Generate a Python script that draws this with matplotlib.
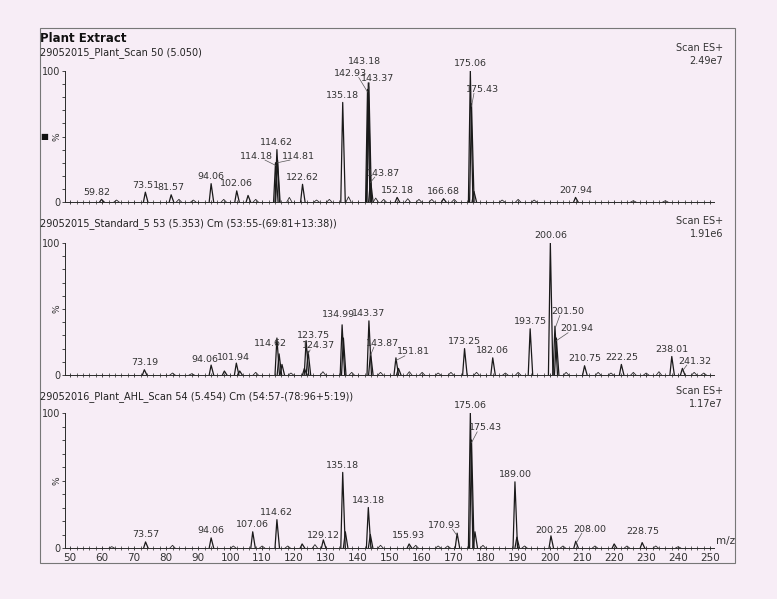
import matplotlib.pyplot as plt
from matplotlib.patches import Rectangle
from matplotlib.ticker import MultipleLocator

# ---- data (m/z, relative intensity %) ----
plant_mz = [59.82, 73.51, 81.57, 94.06, 102.06, 105.6, 114.18, 114.62, 114.81,
            122.62, 135.18, 142.93, 143.18, 143.37, 143.87, 152.18, 166.68,
            175.06, 175.43, 176.2, 207.94]
plant_int = [2, 7.5, 5.5, 14, 8.5, 5, 30, 40, 32,
             13.5, 76, 86, 91, 88, 17, 3.5, 2.5,
             100, 75, 8, 3.5]
plant_labels = ['59.82', '73.51', '81.57', '94.06', '102.06', None, '114.18', '114.62', '114.81',
                '122.62', '135.18', '142.93', '143.18', '143.37', '143.87', '152.18', '166.68',
                '175.06', '175.43', None, '207.94']
plant_small_mz = [64.5, 84.0, 88.5, 98.0, 108.0, 118.5, 127.0, 131.0, 137.0, 145.5, 148.0,
                  155.5, 159.0, 163.0, 170.0, 185.0, 190.0, 195.0, 226.0, 236.0]
plant_small_int = [1.5, 2, 1.5, 2, 2, 3.5, 1.5, 2, 4, 3, 2, 2.5, 2, 2, 2, 1.5, 2, 1.5, 1, 1]

std_mz = [73.19, 94.06, 98.2, 101.94, 103.0, 114.62, 115.3, 116.2, 123.2, 123.75, 124.37,
          134.99, 135.4, 143.37, 143.87, 151.81, 152.6, 173.25, 182.06, 193.75,
          200.06, 201.50, 201.94, 210.75, 222.25, 238.01, 241.32]
std_int = [4, 7.5, 3, 9, 3, 28, 16, 8, 5, 26, 18,
           38, 28, 41, 17, 13, 5, 20, 13, 35,
           100, 37, 28, 7, 8, 14, 5]
std_labels = ['73.19', '94.06', None, '101.94', None, '114.62', None, None, None, '123.75', '124.37',
              '134.99', None, '143.37', '143.87', '151.81', None, '173.25', '182.06', '193.75',
              '200.06', '201.50', '201.94', '210.75', '222.25', '238.01', '241.32']
std_small_mz = [82.0, 88.0, 108.0, 119.0, 129.0, 138.0, 147.0, 156.0, 160.0, 165.0, 169.0,
                177.0, 186.0, 190.0, 205.0, 215.0, 219.0, 226.0, 230.0, 234.0, 245.0, 248.0]
std_small_int = [1.5, 1, 2, 1.5, 2.5, 2, 2, 2.5, 2, 1.5, 2, 2, 1.5, 2, 2, 2, 1.5, 2, 1.5, 2.5, 2, 1.5]

ahl_mz = [73.57, 94.06, 107.06, 114.62, 122.5, 129.12, 135.18, 136.0, 143.18, 143.8,
          155.93, 170.93, 175.06, 175.43, 176.5, 189.00, 189.6, 200.25, 208.00, 220.0, 228.75]
ahl_int = [4.5, 7.5, 12, 21, 3, 6, 56, 12, 30, 10,
           3, 11, 100, 80, 12, 49, 8, 9, 5, 3, 4]
ahl_labels = ['73.57', '94.06', '107.06', '114.62', None, '129.12', '135.18', None, '143.18', None,
              '155.93', '170.93', '175.06', '175.43', None, '189.00', None, '200.25', '208.00', None, '228.75']
ahl_small_mz = [63.0, 82.0, 101.0, 110.0, 118.0, 126.5, 147.0, 158.0, 165.0, 168.0, 179.0,
                192.0, 204.0, 214.0, 224.0, 233.0, 240.0]
ahl_small_int = [1, 2, 1.5, 1.5, 1.5, 2.5, 2, 2, 1.5, 1.5, 2, 1.5, 1.5, 1.5, 1.5, 1.5, 1]

# label overrides: label -> (text x, text y)
plant_pos = {'114.18': (108.3, 35), '114.81': (121.3, 35), '142.93': (137.6, 98),
             '143.18': (142.0, 107), '143.37': (146.2, 94), '143.87': (147.8, 22),
             '175.43': (178.8, 86), '59.82': (58.4, 7)}
std_pos = {'124.37': (127.6, 22), '143.87': (147.5, 24), '151.81': (157.2, 17.5),
           '201.50': (205.6, 48), '201.94': (208.2, 35), '241.32': (245.3, 10.5),
           '94.06': (92.2, 11.5), '101.94': (100.9, 13), '123.75': (125.9, 30),
           '114.62': (112.5, 24), '134.99': (133.8, 46)}
ahl_pos = {'175.43': (179.8, 89), '170.93': (166.9, 17), '200.25': (200.6, 13),
           '208.00': (212.5, 14), '228.75': (229.0, 12), '155.93': (155.6, 9),
           '129.12': (129.0, 9.6)}
leaders = {'114.18', '114.81', '142.93', '143.37', '143.87', '175.43', '124.37',
           '151.81', '201.50', '201.94', '241.32', '170.93', '208.00'}

panels = [
    ('29052015_Plant_Scan 50 (5.050)', '2.49e7', plant_mz, plant_int, plant_labels,
     plant_small_mz, plant_small_int, plant_pos, 71, 202, 53, 48),
    ('29052015_Standard_5 53 (5.353) Cm (53:55-(69:81+13:38))', '1.91e6', std_mz, std_int, std_labels,
     std_small_mz, std_small_int, std_pos, 243, 375, 224, 221),
    ('29052016_Plant_AHL_Scan 54 (5.454) Cm (54:57-(78:96+5:19))', '1.17e7', ahl_mz, ahl_int, ahl_labels,
     ahl_small_mz, ahl_small_int, ahl_pos, 413, 548, 397, 391),
]

W, H = 777, 599
bg = '#f7edf6'
ink = '#2a2a2a'
fig = plt.figure(figsize=(W / 100, H / 100), dpi=100)
fig.patch.set_facecolor(bg)

# page frame
fig.patches.append(Rectangle((40 / W, 1 - 563 / H), 695 / W, 535 / H, transform=fig.transFigure,
                             fill=False, edgecolor='#777777', lw=0.8))

fig.text(40 / W, 1 - 39 / H, 'Plant Extract', fontsize=8.5, fontweight='bold', color='#111111', va='center')

for i, (title, scale, mz, inten, labels, smz, sint, pos, top, bottom, ty, sy) in enumerate(panels):
    ax = fig.add_axes([65 / W, 1 - bottom / H, (714 - 65) / W, (bottom - top) / H])
    ax.set_facecolor('none')
    ax.set_xlim(48.4, 251.2)
    ax.set_ylim(0, 100)
    for s in ['top', 'right']:
        ax.spines[s].set_visible(False)
    for s in ['left', 'bottom']:
        ax.spines[s].set_color(ink)
        ax.spines[s].set_linewidth(0.7)

    # baseline noise and minor peaks
    for m, h in zip(smz, sint):
        ax.plot([m - 0.8, m, m + 0.8], [0, h, 0], color=ink, lw=0.6)
    # main peaks
    for m, h in zip(mz, inten):
        ax.plot([m - 0.6, m, m + 0.8], [0, h, 0], color='#1a1a1a', lw=0.9)

    for m, h, lab in zip(mz, inten, labels):
        if lab is None:
            continue
        if lab in pos:
            tx, tyv = pos[lab]
            ax.text(tx, tyv, lab, fontsize=6.8, color='#333333', ha='center', va='center', clip_on=False)
            if lab in leaders:
                ex = tx - 2.6 if tx > m else tx + 2.6
                ax.plot([m, ex], [h - 2, tyv - 3], color='#555555', lw=0.5, clip_on=False)
        else:
            ax.text(m, h + 2, lab, fontsize=6.8, color='#333333', ha='center', va='bottom', clip_on=False)

    ax.set_yticks([0, 100])
    ax.set_yticklabels(['0', '100'], fontsize=7, color='#333333')
    ax.yaxis.set_minor_locator(MultipleLocator(10))
    ax.tick_params(axis='y', which='both', length=2.5, width=0.6, color=ink, pad=1)
    ax.text(-0.012, 0.5, '%', transform=ax.transAxes, rotation=90, fontsize=6.5,
            color='#333333', ha='center', va='center')

    ax.xaxis.set_major_locator(MultipleLocator(10))
    ax.xaxis.set_minor_locator(MultipleLocator(2))
    ax.tick_params(axis='x', which='major', length=3.5, width=0.6, color=ink, direction='inout')
    ax.tick_params(axis='x', which='minor', length=2.2, width=0.5, color=ink, direction='inout')
    if i < 2:
        ax.set_xticklabels([])
    else:
        ax.set_xticks(range(50, 251, 10))
        ax.set_xticklabels([str(v) for v in range(50, 251, 10)], fontsize=7.5, color='#333333')
        ax.tick_params(axis='x', which='major', pad=1.5)
        fig.text(716 / W, 1 - 541 / H, 'm/z', fontsize=7.5, color='#333333', va='center')

    fig.text(40 / W, 1 - ty / H, title, fontsize=7, color='#222222', va='center')
    fig.text(723 / W, 1 - sy / H, 'Scan ES+', fontsize=7, color='#333333', ha='right', va='center')
    fig.text(723 / W, 1 - (sy + 13) / H, scale, fontsize=7, color='#333333', ha='right', va='center')

fig.text(44 / W, 1 - 137 / H, '\u25a0', fontsize=6, color='#111111', ha='center', va='center')

fig.savefig('out.png', dpi=100, facecolor=bg)
